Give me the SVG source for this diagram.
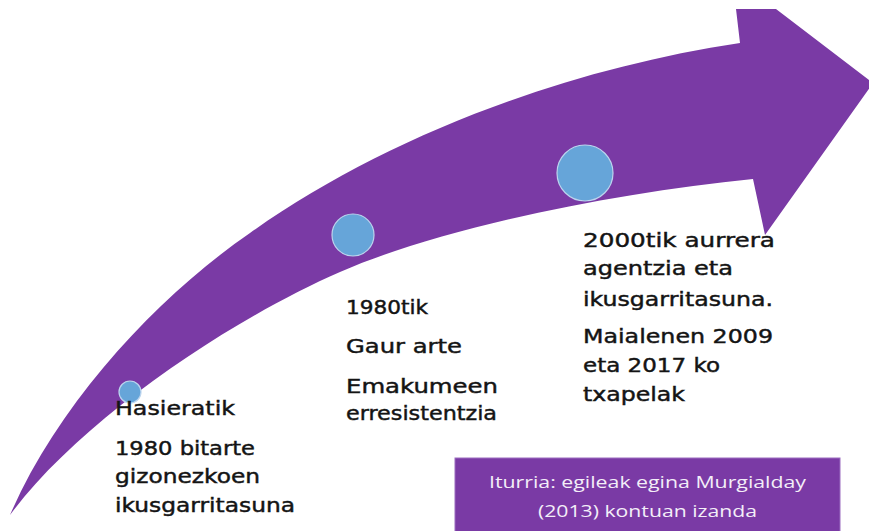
<svg xmlns="http://www.w3.org/2000/svg" width="869" height="531" viewBox="0 0 869 531">
<style>
.arrow{fill:#7A3AA5}
.dot{fill:#66A5D9;stroke:#BCD5EE;stroke-width:1.2}
.t{font-family:"DejaVu Sans","Liberation Sans",sans-serif;font-size:20px;fill:#141414;stroke:#141414;stroke-width:0.45}
.src{font-family:"Open Sans","Liberation Sans",sans-serif;font-size:17px;fill:#F3EEF8;text-anchor:middle}
</style>
<rect width="869" height="531" fill="#ffffff"/>
<g id="arrow">
<path class="arrow" d="M 10,515 C 60,400 160,295 250,233 C 380,140 560,70 740,43 L 736,9 L 776,9 L 873,83 L 765,235 L 753,179 C 613,193 440,228 340,272 C 230,320 80,420 10,515 Z"/>
</g>
<g id="node-hasieratik">
<circle class="dot" cx="130" cy="392" r="11"/>
<text class="t" x="115" y="415" textLength="120" lengthAdjust="spacingAndGlyphs">Hasieratik</text>
<text class="t" x="115" y="455" textLength="140" lengthAdjust="spacingAndGlyphs">1980 bitarte</text>
<text class="t" x="115" y="483" textLength="145" lengthAdjust="spacingAndGlyphs">gizonezkoen</text>
<text class="t" x="115" y="512" textLength="180" lengthAdjust="spacingAndGlyphs">ikusgarritasuna</text>
</g>
<g id="node-1980tik">
<circle class="dot" cx="353" cy="235" r="21"/>
<text class="t" x="346" y="314" textLength="82" lengthAdjust="spacingAndGlyphs">1980tik</text>
<text class="t" x="346" y="353" textLength="116" lengthAdjust="spacingAndGlyphs">Gaur arte</text>
<text class="t" x="346" y="393" textLength="152" lengthAdjust="spacingAndGlyphs">Emakumeen</text>
<text class="t" x="346" y="420" textLength="151" lengthAdjust="spacingAndGlyphs">erresistentzia</text>
</g>
<g id="node-2000tik">
<circle class="dot" cx="585" cy="173" r="28"/>
<text class="t" x="583" y="247" textLength="192" lengthAdjust="spacingAndGlyphs">2000tik aurrera</text>
<text class="t" x="583" y="275" textLength="150" lengthAdjust="spacingAndGlyphs">agentzia eta</text>
<text class="t" x="583" y="306" textLength="190" lengthAdjust="spacingAndGlyphs">ikusgarritasuna.</text>
<text class="t" x="583" y="343" textLength="190" lengthAdjust="spacingAndGlyphs">Maialenen 2009</text>
<text class="t" x="583" y="372" textLength="137" lengthAdjust="spacingAndGlyphs">eta 2017 ko</text>
<text class="t" x="583" y="401" textLength="102" lengthAdjust="spacingAndGlyphs">txapelak</text>
</g>
<g id="source">
<rect x="455" y="458" width="385" height="80" fill="#7A3AA5" stroke="#9B6CC0" stroke-width="1"/>
<text class="src" x="647.5" y="488" textLength="317" lengthAdjust="spacingAndGlyphs">Iturria: egileak egina Murgialday</text>
<text class="src" x="647.5" y="517" textLength="219" lengthAdjust="spacingAndGlyphs">(2013) kontuan izanda</text>
</g>
<g id="connectors"></g>
</svg>
